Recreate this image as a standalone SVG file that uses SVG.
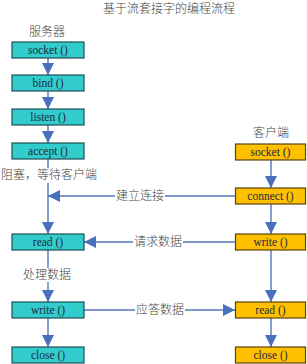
<svg xmlns="http://www.w3.org/2000/svg" width="307" height="364" viewBox="0 0 307 364">
<style>
.cn{font-family:"Noto Sans CJK SC","Liberation Sans",sans-serif;font-size:12px;font-weight:300;fill:#444;}
.bt{font-family:"Liberation Serif","DejaVu Serif",serif;font-size:11.5px;fill:#1c2a40;text-anchor:middle;}
.sv rect{fill:#33CCCC;stroke:#1d4e56;stroke-width:1.2;}
.cl rect{fill:#FFC000;stroke:#5a4410;stroke-width:1.2;}
.ln{stroke:#5577BB;stroke-width:1.4;fill:none;marker-end:url(#ah);}
.bg{fill:#fff;}
</style>
<defs>
<marker id="ah" markerUnits="userSpaceOnUse" markerWidth="12" markerHeight="12" viewBox="0 0 10 10" refX="10" refY="5" orient="auto">
<path d="M0,0 L10,5 L0,10 z" fill="#4A6FBF"/>
</marker>
</defs>
<rect width="307" height="364" fill="#fff"/>
<text class="cn" x="169" y="13" text-anchor="middle">基于流套接字的编程流程</text>
<text class="cn" x="47" y="36" text-anchor="middle">服务器</text>
<text class="cn" x="271" y="137" text-anchor="middle">客户端</text>
<g id="connectors">
<line class="ln" x1="48" y1="58" x2="48" y2="75"/>
<line class="ln" x1="48" y1="91" x2="48" y2="109"/>
<line class="ln" x1="48" y1="125" x2="48" y2="143"/>
<line class="ln" x1="48" y1="159" x2="48" y2="234"/>
<line class="ln" x1="48" y1="250" x2="48" y2="302"/>
<line class="ln" x1="48" y1="318" x2="48" y2="347"/>
<line class="ln" x1="271" y1="160" x2="271" y2="188"/>
<line class="ln" x1="271" y1="204" x2="271" y2="234"/>
<line class="ln" x1="271" y1="250" x2="271" y2="302"/>
<line class="ln" x1="271" y1="318" x2="271" y2="347"/>
<line class="ln" x1="235" y1="196" x2="48" y2="196"/>
<line class="ln" x1="235" y1="242" x2="84" y2="242"/>
<line class="ln" x1="84" y1="310" x2="235" y2="310"/>
<rect class="bg" x="0" y="168" width="97" height="15"/>
<text class="cn" x="1" y="179">阻塞，等待客户端</text>
<rect class="bg" x="115" y="189" width="50" height="14"/>
<text class="cn" x="140" y="200" text-anchor="middle">建立连接</text>
<rect class="bg" x="133" y="235" width="50" height="14"/>
<text class="cn" x="158" y="246" text-anchor="middle">请求数据</text>
<rect class="bg" x="22" y="268" width="50" height="14"/>
<text class="cn" x="47" y="279" text-anchor="middle">处理数据</text>
<rect class="bg" x="135" y="303" width="50" height="14"/>
<text class="cn" x="160" y="314" text-anchor="middle">应答数据</text>
</g>
<g id="s-socket" class="sv"><rect x="12" y="42" width="72" height="16"/><text class="bt" x="48" y="54">socket ()</text></g>
<g id="s-bind" class="sv"><rect x="12" y="75" width="72" height="16"/><text class="bt" x="48" y="87">bind ()</text></g>
<g id="s-listen" class="sv"><rect x="12" y="109" width="72" height="16"/><text class="bt" x="48" y="121">listen ()</text></g>
<g id="s-accept" class="sv"><rect x="12" y="143" width="72" height="16"/><text class="bt" x="48" y="155">accept ()</text></g>
<g id="s-read" class="sv"><rect x="12" y="234" width="72" height="16"/><text class="bt" x="48" y="246">read ()</text></g>
<g id="s-write" class="sv"><rect x="12" y="302" width="72" height="16"/><text class="bt" x="48" y="314">write ()</text></g>
<g id="s-close" class="sv"><rect x="12" y="347" width="72" height="16"/><text class="bt" x="48" y="359">close ()</text></g>
<g id="c-socket" class="cl"><rect x="235.5" y="144" width="70" height="16"/><text class="bt" x="270.5" y="156">socket ()</text></g>
<g id="c-connect" class="cl"><rect x="235.5" y="188" width="70" height="16"/><text class="bt" x="270.5" y="200">connect ()</text></g>
<g id="c-write" class="cl"><rect x="235.5" y="234" width="70" height="16"/><text class="bt" x="270.5" y="246">write ()</text></g>
<g id="c-read" class="cl"><rect x="235.5" y="302" width="70" height="16"/><text class="bt" x="270.5" y="314">read ()</text></g>
<g id="c-close" class="cl"><rect x="235.5" y="347" width="70" height="16"/><text class="bt" x="270.5" y="359">close ()</text></g>
</svg>
